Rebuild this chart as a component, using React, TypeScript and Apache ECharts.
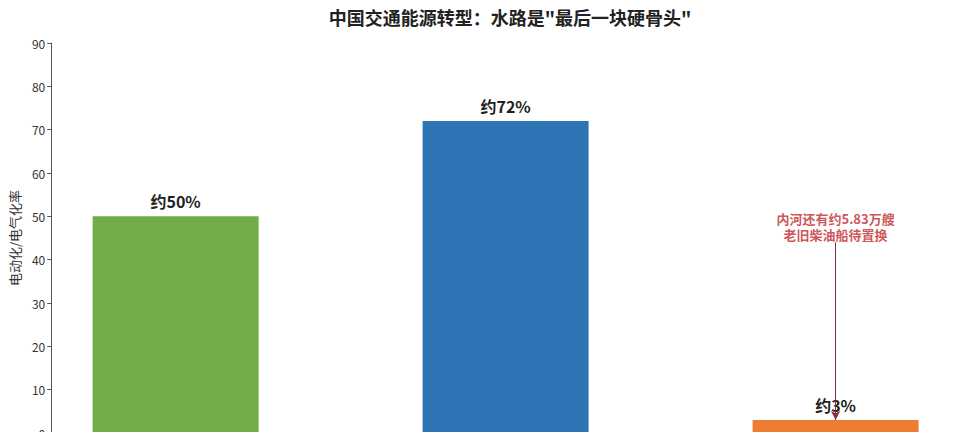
import React, { useEffect, useRef } from "react";
import * as echarts from "echarts";

const title = '中国交通能源转型：水路是"最后一块硬骨头"';
const categories = ["公路", "铁路", "水路"];
const values = [50, 72, 3];
const valueLabels = ["约50%", "约72%", "约3%"];
const colors = ["#70AD47", "#2E75B6", "#ED7D31"];
const yTicks = { min: 0, max: 90, interval: 10 };
const yName = "电动化/电气化率";
const noteText = "内河还有约5.83万艘\n老旧柴油船待置换";
const noteAt = 47.7;
const arrowFrom = 44;

const FONT = '"Noto Sans CJK SC", "Noto Sans", sans-serif';

export default function App() {
  const ref = useRef<HTMLDivElement>(null);
  useEffect(() => {
    if (!ref.current) return;
    const chart = echarts.init(ref.current, undefined, { renderer: "svg" });
    const idx = categories.length - 1;
    chart.setOption({
      animation: false,
      backgroundColor: "#ffffff",
      textStyle: { fontFamily: FONT },
      title: {
        text: title,
        left: 505,
        textAlign: "center",
        top: 3,
        textStyle: { fontSize: 18, fontWeight: "bold", color: "#222", fontFamily: FONT },
      },
      grid: { left: 48, right: -2, top: 43, bottom: 7, containLabel: false },
      xAxis: {
        type: "value",
        min: -0.377,
        max: 2.377,
        show: false,
      },
      yAxis: {
        type: "value",
        min: yTicks.min,
        max: yTicks.max,
        interval: yTicks.interval,
        name: yName,
        nameLocation: "middle",
        nameGap: 30,
        nameTextStyle: { fontSize: 13, color: "#333", fontFamily: FONT },
        axisLine: { show: true, onZero: false, lineStyle: { color: "#555", width: 1 } },
        axisTick: { show: true, length: 4, lineStyle: { color: "#555" } },
        axisLabel: { fontSize: 12, color: "#333", margin: 6, fontFamily: FONT },
        splitLine: { show: false },
      },
      series: [
        {
          type: "bar",
          barWidth: 166,
          data: values.map((v, i) => ({
            value: [i, v],
            name: categories[i],
            itemStyle: { color: colors[i] },
            label: {
              show: true,
              position: "top",
              distance: 7,
              formatter: valueLabels[i],
              fontSize: 16,
              fontWeight: "bold",
              color: "#222",
              fontFamily: FONT,
            },
          })),
        },
        {
          type: "scatter",
          data: [[idx, noteAt]],
          symbolSize: 0,
          silent: true,
          label: {
            show: true,
            position: "inside",
            formatter: noteText,
            fontSize: 13,
            fontWeight: "bold",
            lineHeight: 16,
            align: "center",
            color: "#C0282D",
            fontFamily: FONT,
          },
          markLine: {
            silent: true,
            symbol: ["none", "arrow"],
            symbolSize: [7, 9],
            label: { show: false },
            lineStyle: { color: "#8E2A3E", width: 1, type: "solid" },
            data: [[{ coord: [idx, arrowFrom] }, { coord: [idx, values[idx]] }]],
          },
        },
      ],
    });
    return () => chart.dispose();
  }, []);
  return (
    <div
      style={{
        position: "fixed",
        left: 0,
        top: 0,
        width: 960,
        height: 432,
        overflow: "hidden",
        background: "#fff",
      }}
    >
      <div ref={ref} style={{ width: 960, height: 440 }} />
    </div>
  );
}
